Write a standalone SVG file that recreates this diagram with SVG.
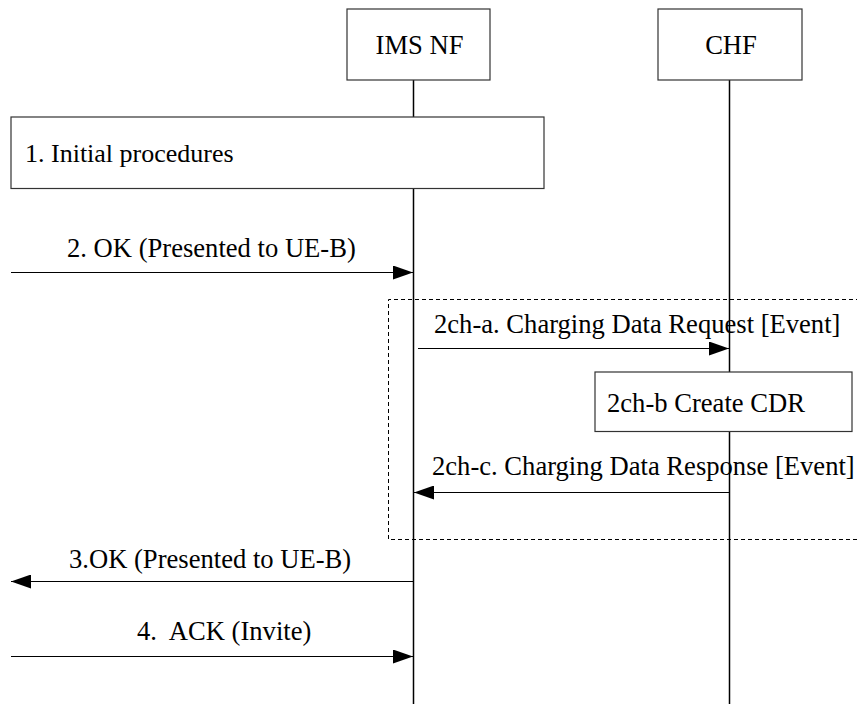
<svg xmlns="http://www.w3.org/2000/svg" width="857" height="704" viewBox="0 0 857 704">
<style>
  .box { fill: #ffffff; stroke: #333333; stroke-width: 1.2; }
  .life { stroke: #000000; stroke-width: 1.5; fill: none; }
  .msg { stroke: #000000; stroke-width: 1; fill: none; marker-end: url(#arrow); }
  .dash { fill: none; stroke: #000000; stroke-width: 1; stroke-dasharray: 4 3; }
  text { font-family: 'Liberation Serif', 'DejaVu Serif', serif; font-size: 26px; fill: #000000; }
  .lbl { font-size: 26.6px; }
  .c { text-anchor: middle; }
</style>
<defs>
  <marker id="arrow" markerUnits="userSpaceOnUse" markerWidth="20" markerHeight="14" refX="20" refY="7" orient="auto">
    <path d="M0,0 L20,7 L0,14 Z" fill="#000000"/>
  </marker>
</defs>
<g id="lifelines">
  <line class="life" x1="413.5" y1="80" x2="413.5" y2="704"/>
  <line class="life" x1="729.5" y1="80" x2="729.5" y2="704"/>
</g>
<g id="ims-nf">
  <rect class="box" x="347" y="9" width="143" height="71"/>
  <text class="c lbl" x="419.5" y="54">IMS NF</text>
</g>
<g id="chf">
  <rect class="box" x="658" y="9" width="144" height="71"/>
  <text class="c lbl" x="731" y="54">CHF</text>
</g>
<g id="initial-procedures">
  <rect class="box" x="11" y="117" width="533" height="71.5"/>
  <text x="25" y="162">1. Initial procedures</text>
</g>
<g id="charging-frame">
  <path class="dash" d="M860,299.5 L388.5,299.5 L388.5,539.5 L860,539.5"/>
</g>
<g id="create-cdr">
  <rect class="box" x="595" y="372" width="257" height="59.5"/>
  <text class="lbl" x="607" y="411.5">2ch-b Create CDR</text>
</g>
<g id="connectors">
  <line class="msg" x1="11" y1="272.5" x2="413" y2="272.5"/>
  <line class="msg" x1="418" y1="348.5" x2="729" y2="348.5"/>
  <line class="msg" x1="729" y1="492.5" x2="414" y2="492.5"/>
  <line class="msg" x1="413" y1="581.5" x2="11" y2="581.5"/>
  <line class="msg" x1="11" y1="656.5" x2="413" y2="656.5"/>
</g>
<g id="labels">
  <text class="lbl" x="67" y="256.5">2. OK (Presented to UE-B)</text>
  <text class="lbl" x="434" y="332.5">2ch-a. Charging Data Request [Event]</text>
  <text class="lbl" x="432" y="475">2ch-c. Charging Data Response [Event]</text>
  <text class="lbl" x="69" y="568">3.OK (Presented to UE-B)</text>
  <text class="lbl" x="137" y="640" xml:space="preserve">4.  ACK (Invite)</text>
</g>
</svg>
